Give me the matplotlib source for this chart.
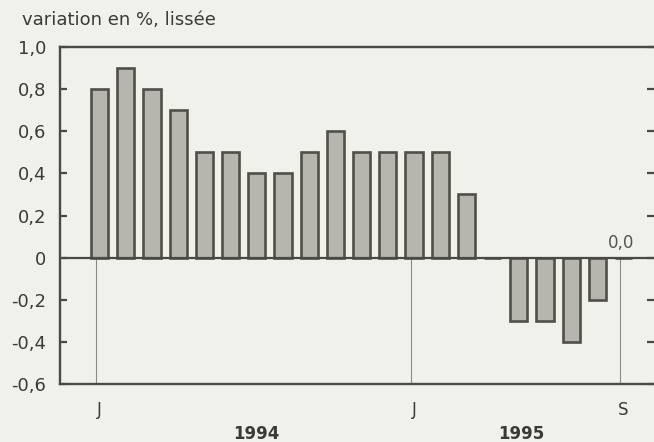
import matplotlib
matplotlib.use("Agg")
import matplotlib.pyplot as plt

# Monthly data, Jan 1994 .. Sep 1995
months = ["J", "F", "M", "A", "M", "J", "J", "A", "S", "O", "N", "D",
          "J", "F", "M", "A", "M", "J", "J", "A", "S"]
values = [0.8, 0.9, 0.8, 0.7, 0.5, 0.5, 0.4, 0.4, 0.5, 0.6, 0.5, 0.5,
          0.5, 0.5, 0.3, 0.0, -0.3, -0.3, -0.4, -0.2, 0.0]
tick_months = [0, 12, 20]
tick_labels = ["J", "J", "S"]
years = ["1994", "1995"]
year_centers = [6.0, 16.1]
yticks = [1.0, 0.8, 0.6, 0.4, 0.2, 0.0, -0.2, -0.4, -0.6]
ytick_labels = ["1,0", "0,8", "0,6", "0,4", "0,2", "0", "-0,2", "-0,4", "-0,6"]
last_label = "0,0"

plt.rcParams['font.family'] = ['DejaVu Sans']
bg = "#f1f1ec"
dark = "#4a4a44"
txt = "#3a3a36"

fig = plt.figure(figsize=(6.54, 4.42), dpi=100, facecolor=bg)
ax = fig.add_axes([60/654, 58/442, 594/654, 337/442], facecolor=bg)

x = list(range(len(values)))
ax.bar(x, values, width=0.66, color="#b6b6ae", edgecolor="#505048", linewidth=1.9, zorder=3)

ax.axhline(0, color=dark, lw=1.6, zorder=4)
for m in tick_months:
    ax.plot([m - 0.13, m - 0.13], [-0.6, 0], color="#8a8a84", lw=0.8, zorder=2)

ax.set_xlim(-1.51, 21.16)
ax.set_ylim(-0.6, 1.0)
ax.set_yticks(yticks)
ax.set_yticklabels(ytick_labels, fontsize=13, color=txt)
ax.set_xticks([])
ax.tick_params(axis='y', direction='in', length=5, width=1.6, color=dark,
               right=True, left=True, labelright=False, pad=10)
for s in ["left", "top", "bottom"]:
    ax.spines[s].set_color(dark)
    ax.spines[s].set_linewidth(1.7)
ax.spines["right"].set_visible(False)

for m, lab in zip(tick_months, tick_labels):
    ax.annotate(lab, xy=(m, -0.6), xytext=(0, -19), textcoords="offset points",
                ha="center", va="center", fontsize=12, color=txt)
for c, y in zip(year_centers, years):
    ax.annotate(y, xy=(c, -0.6), xytext=(0, -36), textcoords="offset points",
                ha="center", va="center", fontsize=12, fontweight="bold", color=txt)

ax.annotate(last_label, xy=(19.9, 0), xytext=(0, 4), textcoords="offset points",
            ha="center", va="bottom", fontsize=12, color="#55554f")

fig.text(22/654, 1 - 20/442, "variation en %, lissée", ha="left", va="center",
         fontsize=13, color=txt)

fig.savefig("out.png", dpi=100, facecolor=bg)
